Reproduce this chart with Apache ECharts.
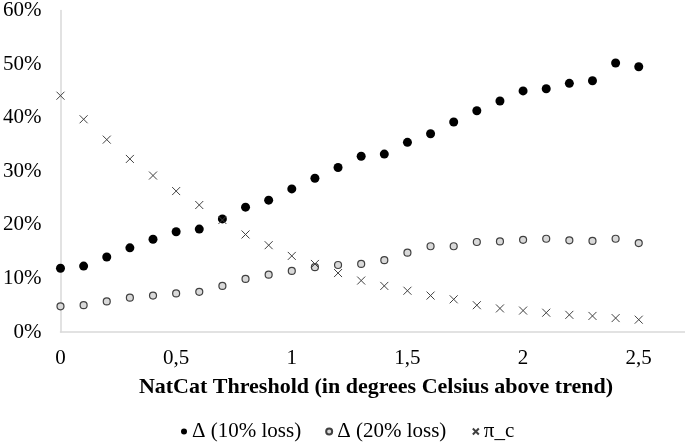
<!DOCTYPE html>
<html>
<head>
<meta charset="utf-8">
<script src="https://cdn.jsdelivr.net/npm/echarts@6/dist/echarts.min.js"></script>
<style>
  html, body { margin: 0; padding: 0; background: #fff; }
  #chart { width: 685px; height: 443px; }
</style>
</head>
<body>
<div id="chart"></div>
<script>
const thresholds = [0, 0.1, 0.2, 0.3, 0.4, 0.5, 0.6, 0.7, 0.8, 0.9, 1, 1.1, 1.2,
  1.3, 1.4, 1.5, 1.6, 1.7, 1.8, 1.9, 2, 2.1, 2.2, 2.3, 2.4, 2.5];
const delta10 = [11.9, 12.3, 14.0, 15.7, 17.3, 18.7, 19.2, 21.1, 23.3, 24.6, 26.7, 28.7, 30.7,
  32.8, 33.2, 35.4, 37.0, 39.2, 41.3, 43.1, 45.0, 45.4, 46.4, 46.9, 50.2, 49.5];
const delta20 = [4.8, 5.0, 5.7, 6.4, 6.8, 7.2, 7.5, 8.6, 9.9, 10.7, 11.4, 12.1, 12.5,
  12.7, 13.4, 14.8, 16.0, 16.0, 16.8, 16.9, 17.2, 17.4, 17.1, 17.0, 17.4, 16.6];
const piC = [44.1, 39.7, 35.9, 32.3, 29.2, 26.3, 23.7, 20.9, 18.2, 16.2, 14.2, 12.7, 11.0,
  9.6, 8.6, 7.7, 6.8, 6.1, 5.0, 4.4, 4.0, 3.6, 3.2, 3.0, 2.6, 2.3];
const seriesNames = ["Δ (10% loss)", "Δ (20% loss)", "π_c"];

const font = "Liberation Serif";
const cross = "path://M0,0L10,10M10,0L0,10";
const pairs = (vals) => thresholds.map((x, i) => [x, vals[i]]);

const chart = echarts.init(document.getElementById("chart"));
chart.setOption({
  animation: false,
  textStyle: { fontFamily: font },
  title: {
    text: "NatCat Threshold (in degrees Celsius above trend)",
    left: 371,
    textAlign: "center",
    top: 371,
    textStyle: { fontFamily: font, fontSize: 22, fontWeight: "bold", color: "#000" },
  },
  legend: {
    top: 416,
    left: 176,
    itemWidth: 6,
    itemHeight: 6,
    itemGap: 24,
    textStyle: { fontFamily: font, fontSize: 21, color: "#000" },
    data: [
      { name: seriesNames[0], icon: "circle" },
      { name: seriesNames[1], icon: "circle" },
      { name: seriesNames[2], icon: cross },
    ],
  },
  grid: { left: 59, right: 0, top: 10, bottom: 111 },
  xAxis: {
    type: "value",
    min: 0,
    max: 2.7,
    interval: 0.5,
    splitLine: { show: false },
    axisTick: { show: false },
    axisLine: { lineStyle: { color: "#d9d9d9", width: 1.5 } },
    axisLabel: {
      margin: 16,
      fontSize: 21,
      fontFamily: font,
      color: "#000",
      showMaxLabel: false,
      formatter: (v) => String(v).replace(".", ","),
    },
  },
  yAxis: {
    type: "value",
    min: 0,
    max: 60,
    interval: 10,
    splitLine: { show: false },
    axisTick: { show: false },
    axisLine: { show: true, lineStyle: { color: "#d9d9d9", width: 1.5 } },
    axisLabel: {
      margin: 19,
      fontSize: 21,
      fontFamily: font,
      color: "#000",
      formatter: (v) => v + "%",
    },
  },
  series: [
    {
      name: seriesNames[0],
      type: "scatter",
      symbol: "circle",
      symbolSize: 9,
      itemStyle: { color: "#000", opacity: 1 },
      data: pairs(delta10),
    },
    {
      name: seriesNames[1],
      type: "scatter",
      symbol: "circle",
      symbolSize: 7,
      itemStyle: { color: "#d9d9d9", borderColor: "#404040", borderWidth: 1.2, opacity: 1 },
      data: pairs(delta20),
    },
    {
      name: seriesNames[2],
      type: "scatter",
      symbol: cross,
      symbolSize: 8,
      itemStyle: { color: "none", borderColor: "#404040", borderWidth: 1, opacity: 1 },
      data: pairs(piC),
    },
  ],
});
</script>
</body>
</html>
